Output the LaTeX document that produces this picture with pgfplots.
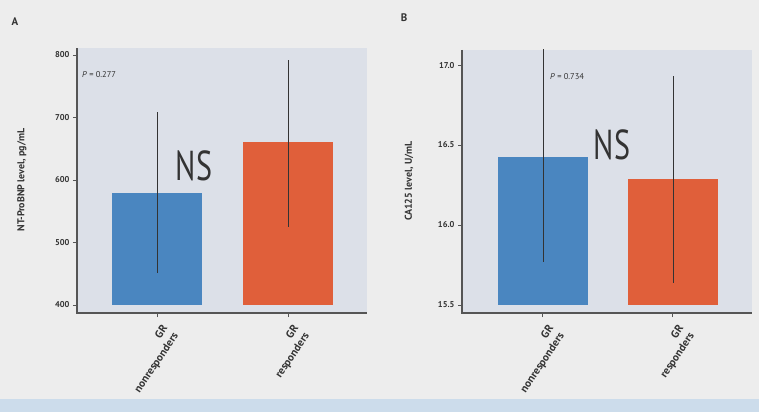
\documentclass[border=0pt]{standalone}
\usepackage{fontspec}
\setmainfont{PT Sans}
\usepackage{pgfplots}
\pgfplotsset{compat=1.18}
\definecolor{bgpage}{HTML}{EDEDED}
\definecolor{bgplot}{HTML}{DCE0E8}
\definecolor{barblue}{HTML}{4A86C0}
\definecolor{barorange}{HTML}{E05F3A}
\definecolor{axisgray}{HTML}{555555}
\definecolor{txt}{HTML}{333333}
\definecolor{strip}{HTML}{CCDCEB}
\pgfplotsset{panel/.style={
  scale only axis, anchor=south west, width=290bp,
  axis background/.style={fill=bgplot},
  axis x line*=bottom, axis y line*=left,
  axis line style={draw=none},
  tick style={axisgray, line width=1bp},
  tick align=outside, major tick length=4bp,
  xtick={0,1},
  xticklabels={{GR\\nonresponders},{GR\\responders}},
  yticklabel style={font=\fontsize{8.5}{9}\selectfont\bfseries, text=txt},
  xticklabel style={rotate=56, anchor=north east, align=right, yshift=-4bp, font=\fontsize{11}{13}\selectfont\bfseries, text=txt},
  /pgf/number format/assume math mode=true,
  after end axis/.code={\draw[axisgray, line width=1.3bp] (rel axis cs:0,1) -- (rel axis cs:0,0) -- (rel axis cs:1,0);},
}}
\begin{document}
\begin{tikzpicture}
\useasboundingbox (0,0) rectangle (759bp,412bp);
\fill[bgpage] (0,0) rectangle (759bp,412bp);
\clip (0,0) rectangle (759bp,412bp);
\fill[strip] (0,0) rectangle (759bp,13bp);
% Panel A
\begin{axis}[panel, at={(77bp,99bp)}, height=265bp,
  xmin=-0.611, xmax=1.603,
  y coord trafo/.code={\pgfmathparse{#1-400}},
  y coord inv trafo/.code={\pgfmathparse{#1+400}},
  ymin=387.2, ymax=811.2,
  ytick={400,500,600,700,800}, yticklabels={400,500,600,700,800}]
\addplot[ybar, bar width=90bp, fill=barblue, draw=none] coordinates {(0,579)};
\addplot[ybar, bar width=90bp, fill=barorange, draw=none] coordinates {(1,661)};
\addplot[txt, line width=0.9bp, mark=none] coordinates {(0,451) (0,709)};
\addplot[txt, line width=0.9bp, mark=none] coordinates {(1,525) (1,792)};
\end{axis}
% Panel B
\begin{axis}[panel, at={(462bp,99bp)}, height=263bp,
  xmin=-0.623, xmax=1.608,
  y coord trafo/.code={\pgfmathparse{#1-15.5}},
  y coord inv trafo/.code={\pgfmathparse{#1+15.5}},
  ymin=15.45, ymax=17.094,
  ytick={15.5,16.0,16.5,17.0}, yticklabels={15.5,16.0,16.5,17.0}]
\addplot[ybar, bar width=90bp, fill=barblue, draw=none] coordinates {(0,16.425)};
\addplot[ybar, bar width=90bp, fill=barorange, draw=none] coordinates {(1,16.29)};
\addplot[txt, line width=0.9bp, mark=none] coordinates {(0,15.77) (0,17.2)};
\addplot[txt, line width=0.9bp, mark=none] coordinates {(1,15.64) (1,16.93)};
\end{axis}
% annotations
\node[font=\fontsize{11}{12}\selectfont\bfseries, text=txt] at (15bp,390bp) {A};
\node[font=\fontsize{11}{12}\selectfont\bfseries, text=txt] at (404bp,394bp) {B};
\node[anchor=west, font=\fontsize{8.5}{9}\selectfont, text=txt, inner sep=0pt] at (82bp,337bp) {\textit{P} = 0.277};
\node[anchor=west, font=\fontsize{8.5}{9}\selectfont, text=txt, inner sep=0pt] at (550bp,335bp) {\textit{P} = 0.734};
\node[font=\fontsize{42}{42}\selectfont, text=txt, xscale=0.72, inner sep=0pt] at (194bp,246bp) {NS};
\node[font=\fontsize{42}{42}\selectfont, text=txt, xscale=0.72, inner sep=0pt] at (612bp,267bp) {NS};
\node[rotate=90, font=\fontsize{10}{11}\selectfont\bfseries, text=txt] at (22bp,232bp) {NT-ProBNP level, pg/mL};
\node[rotate=90, font=\fontsize{10}{11}\selectfont\bfseries, text=txt] at (409bp,231bp) {CA125 level, U/mL};
\end{tikzpicture}
\end{document}
